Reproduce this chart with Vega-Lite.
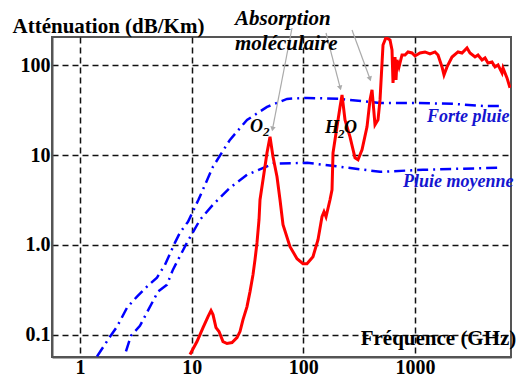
{
  "$schema": "https://vega.github.io/schema/vega-lite/v6.json",
  "width": 459,
  "height": 320,
  "autosize": "none",
  "padding": {"left": 52, "top": 37, "right": 7, "bottom": 17},
  "background": "white",
  "config": {"view": {"stroke": "#555", "strokeWidth": 2}, "font": "Liberation Serif"},
  "datasets": {
    "rain": [
      {"s": "Forte pluie", "f": 1.42, "a": 0.057}, {"s": "Forte pluie", "f": 1.86, "a": 0.095}, {"s": "Forte pluie", "f": 2.15, "a": 0.123},
      {"s": "Forte pluie", "f": 2.64, "a": 0.2}, {"s": "Forte pluie", "f": 3.24, "a": 0.265}, {"s": "Forte pluie", "f": 4.06, "a": 0.351},
      {"s": "Forte pluie", "f": 4.89, "a": 0.431}, {"s": "Forte pluie", "f": 5.77, "a": 0.6}, {"s": "Forte pluie", "f": 7.09, "a": 1.06},
      {"s": "Forte pluie", "f": 7.86, "a": 1.37}, {"s": "Forte pluie", "f": 9.27, "a": 1.81}, {"s": "Forte pluie", "f": 11.5, "a": 3.18},
      {"s": "Forte pluie", "f": 15.5, "a": 7.42}, {"s": "Forte pluie", "f": 22.0, "a": 14.8}, {"s": "Forte pluie", "f": 31.3, "a": 24.7},
      {"s": "Forte pluie", "f": 47.3, "a": 34.5}, {"s": "Forte pluie", "f": 71.4, "a": 42.4}, {"s": "Forte pluie", "f": 108, "a": 43.5},
      {"s": "Forte pluie", "f": 213, "a": 42.4}, {"s": "Forte pluie", "f": 486, "a": 38.2}, {"s": "Forte pluie", "f": 1042, "a": 38.2},
      {"s": "Forte pluie", "f": 2189, "a": 37.3}, {"s": "Forte pluie", "f": 4063, "a": 35.4}, {"s": "Forte pluie", "f": 6136, "a": 35.4},
      {"s": "Pluie moyenne", "f": 2.58, "a": 0.065}, {"s": "Pluie moyenne", "f": 2.86, "a": 0.097}, {"s": "Pluie moyenne", "f": 3.44, "a": 0.125},
      {"s": "Pluie moyenne", "f": 4.99, "a": 0.301}, {"s": "Pluie moyenne", "f": 6.01, "a": 0.36}, {"s": "Pluie moyenne", "f": 6.8, "a": 0.529},
      {"s": "Pluie moyenne", "f": 9.08, "a": 1.06}, {"s": "Pluie moyenne", "f": 11.9, "a": 1.91}, {"s": "Pluie moyenne", "f": 15.5, "a": 2.8},
      {"s": "Pluie moyenne", "f": 22.0, "a": 4.33}, {"s": "Pluie moyenne", "f": 31.3, "a": 6.04}, {"s": "Pluie moyenne", "f": 53.5, "a": 8.01},
      {"s": "Pluie moyenne", "f": 108, "a": 8.22}, {"s": "Pluie moyenne", "f": 213, "a": 7.42}, {"s": "Pluie moyenne", "f": 486, "a": 6.52},
      {"s": "Pluie moyenne", "f": 1179, "a": 6.87}, {"s": "Pluie moyenne", "f": 2377, "a": 7.05}, {"s": "Pluie moyenne", "f": 5770, "a": 7.23}
    ],
    "gas": [
      {"f": 9.66, "a": 0.0599}, {"f": 11.16, "a": 0.0835}, {"f": 12.64, "a": 0.1196}, {"f": 14.01, "a": 0.1586}, {"f": 14.9, "a": 0.185},
      {"f": 15.52, "a": 0.1669}, {"f": 16.51, "a": 0.1196}, {"f": 17.57, "a": 0.108}, {"f": 19.08, "a": 0.0835}, {"f": 20.72, "a": 0.0794},
      {"f": 22.97, "a": 0.0814}, {"f": 25.47, "a": 0.0926}, {"f": 27.09, "a": 0.108}, {"f": 28.82, "a": 0.1468}, {"f": 31.3, "a": 0.2049},
      {"f": 33.3, "a": 0.3011}, {"f": 35.42, "a": 0.4655}, {"f": 36.91, "a": 0.6836}, {"f": 38.46, "a": 1.057}, {"f": 40.09, "a": 1.906},
      {"f": 40.92, "a": 3.183}, {"f": 43.53, "a": 5.314}, {"f": 47.27, "a": 10.61}, {"f": 50.28, "a": 16.0}, {"f": 53.5, "a": 9.58},
      {"f": 58.09, "a": 5.738}, {"f": 61.8, "a": 3.183}, {"f": 65.75, "a": 1.676}, {"f": 75.95, "a": 0.954}, {"f": 87.76, "a": 0.701},
      {"f": 99.31, "a": 0.617}, {"f": 107.8, "a": 0.617}, {"f": 122.0, "a": 0.738}, {"f": 135.3, "a": 1.141}, {"f": 146.9, "a": 2.058},
      {"f": 153.1, "a": 2.34}, {"f": 159.6, "a": 2.058}, {"f": 173.3, "a": 3.183}, {"f": 180.6, "a": 4.113}, {"f": 184.4, "a": 10.61},
      {"f": 200.1, "a": 20.68}, {"f": 213.0, "a": 34.51}, {"f": 222.0, "a": 46.95}, {"f": 236.1, "a": 24.74}, {"f": 261.7, "a": 16.0},
      {"f": 290.1, "a": 9.34}, {"f": 308.6, "a": 8.87}, {"f": 335.2, "a": 11.46}, {"f": 371.6, "a": 20.68}, {"f": 395.4, "a": 41.3},
      {"f": 412.1, "a": 53.37}, {"f": 438.3, "a": 21.76}, {"f": 466.3, "a": 24.74}, {"f": 485.9, "a": 41.3}, {"f": 516.9, "a": 169.1},
      {"f": 549.8, "a": 204.9}, {"f": 597.0, "a": 192.2}, {"f": 622.2, "a": 148.8}, {"f": 635.2, "a": 63.86}, {"f": 662.0, "a": 124.3},
      {"f": 675.8, "a": 68.97}, {"f": 689.9, "a": 115.1}, {"f": 718.9, "a": 96.23}, {"f": 764.7, "a": 130.9}, {"f": 813.7, "a": 130.9},
      {"f": 865.4, "a": 141.4}, {"f": 939.9, "a": 137.8}, {"f": 1000, "a": 127.6}, {"f": 1108, "a": 137.8}, {"f": 1229, "a": 141.4},
      {"f": 1362, "a": 134.3}, {"f": 1510, "a": 141.4}, {"f": 1607, "a": 130.9}, {"f": 1745, "a": 96.23}, {"f": 1818, "a": 78.39},
      {"f": 1934, "a": 96.23}, {"f": 2144, "a": 124.3}, {"f": 2427, "a": 141.4}, {"f": 2635, "a": 137.8}, {"f": 2921, "a": 156.6},
      {"f": 3107, "a": 137.8}, {"f": 3445, "a": 124.3}, {"f": 3665, "a": 130.9}, {"f": 3981, "a": 115.1}, {"f": 4235, "a": 121.2},
      {"f": 4504, "a": 106.6}, {"f": 4892, "a": 109.4}, {"f": 5204, "a": 96.23}, {"f": 5537, "a": 101.3}, {"f": 6012, "a": 82.5},
      {"f": 6136, "a": 93.8}, {"f": 6663, "a": 72.6}, {"f": 7088, "a": 56.17}
    ],
    "arrows": [
      {"id": 1, "f": 79.16, "a": 261.5, "f2": 53.0, "a2": 19.6},
      {"id": 2, "f": 159.6, "a": 230.0, "f2": 213.9, "a2": 56.2},
      {"id": 3, "f": 272.8, "a": 248.5, "f2": 395.4, "a2": 70.7}
    ],
    "notes": [
      {"f": 24.43, "a": 282.4, "t": "Absorption", "k": "head"},
      {"f": 24.43, "a": 148.8, "t": "moléculaire", "k": "head"},
      {"f": 33.3, "a": 18.18, "t": "O", "k": "chem"},
      {"f": 43.53, "a": 16.42, "t": "2", "k": "sub"},
      {"f": 156.3, "a": 17.73, "t": "H", "k": "chem"},
      {"f": 204.4, "a": 15.59, "t": "2", "k": "sub"},
      {"f": 231.3, "a": 17.73, "t": "O", "k": "chem"},
      {"f": 1281, "a": 23.5, "t": "Forte pluie", "k": "rain"},
      {"f": 780.8, "a": 4.441, "t": "Pluie moyenne", "k": "rain"}
    ]
  },
  "layer": [
    {
      "data": {"name": "rain"},
      "mark": {"type": "line", "color": "#0000ff", "strokeWidth": 2.5, "strokeDash": [11, 5, 2, 5], "clip": true},
      "encoding": {
        "x": {"field": "f", "type": "quantitative",
          "scale": {"type": "log", "domain": [0.5614, 7236], "nice": false},
          "axis": {"values": [1, 10, 100, 1000], "labelExpr": "format(datum.value, 'd')",
            "grid": true, "gridDash": [6, 4], "gridColor": "#111", "gridWidth": 1.5,
            "ticks": false, "tickSize": 0, "labelPadding": 0, "labelFlush": false, "labelOverlap": false,
            "labelFont": "Liberation Serif", "labelFontWeight": "bold", "labelFontSize": 20, "labelColor": "#000",
            "domainColor": "#555", "domainWidth": 2,
            "title": "Fréquence (GHz)", "titleFont": "Liberation Serif", "titleFontWeight": "bold", "titleFontSize": 21,
            "titleColor": "#000", "titleX": 386, "titleY": -13, "titleAlign": "center", "titleBaseline": "alphabetic"}},
        "y": {"field": "a", "type": "quantitative",
          "scale": {"type": "log", "domain": [0.0562, 207.6], "nice": false},
          "axis": {"values": [0.1, 1, 10, 100],
            "labelExpr": "datum.value >= 100 ? '100' : datum.value >= 10 ? '10' : datum.value >= 1 ? '1.0' : '0.1'",
            "grid": true, "gridDash": [6, 4], "gridColor": "#111", "gridWidth": 1.5,
            "ticks": false, "tickSize": 0, "labelPadding": 2, "labelFlush": false, "labelOverlap": false,
            "labelFont": "Liberation Serif", "labelFontWeight": "bold", "labelFontSize": 20, "labelColor": "#000",
            "domainColor": "#555", "domainWidth": 2,
            "title": "Atténuation (dB/Km)", "titleFont": "Liberation Serif", "titleFontWeight": "bold", "titleFontSize": 21,
            "titleColor": "#000", "titleAngle": 0, "titleX": -40, "titleY": -5, "titleAlign": "left", "titleBaseline": "alphabetic"}},
        "detail": {"field": "s", "type": "nominal"},
        "order": {"field": "f", "type": "quantitative"}
      }
    },
    {
      "data": {"name": "gas"},
      "mark": {"type": "line", "color": "#ff0000", "strokeWidth": 3, "clip": true},
      "encoding": {
        "x": {"field": "f", "type": "quantitative"},
        "y": {"field": "a", "type": "quantitative"},
        "order": {"field": "f", "type": "quantitative"}
      }
    },
    {
      "data": {"name": "arrows"},
      "mark": {"type": "rule", "color": "#aaaaaa", "strokeWidth": 1.2},
      "encoding": {
        "x": {"field": "f", "type": "quantitative"},
        "y": {"field": "a", "type": "quantitative"},
        "x2": {"field": "f2"},
        "y2": {"field": "a2"}
      }
    },
    {
      "data": {"name": "arrows"},
      "transform": [{"filter": "datum.id == 1"}],
      "mark": {"type": "point", "shape": "triangle-down", "filled": true, "color": "#aaaaaa", "opacity": 1, "size": 30, "angle": 11},
      "encoding": {"x": {"field": "f2", "type": "quantitative"}, "y": {"field": "a2", "type": "quantitative"}}
    },
    {
      "data": {"name": "arrows"},
      "transform": [{"filter": "datum.id == 2"}],
      "mark": {"type": "point", "shape": "triangle-down", "filled": true, "color": "#aaaaaa", "opacity": 1, "size": 30, "angle": -15},
      "encoding": {"x": {"field": "f2", "type": "quantitative"}, "y": {"field": "a2", "type": "quantitative"}}
    },
    {
      "data": {"name": "arrows"},
      "transform": [{"filter": "datum.id == 3"}],
      "mark": {"type": "point", "shape": "triangle-down", "filled": true, "color": "#aaaaaa", "opacity": 1, "size": 30, "angle": -19},
      "encoding": {"x": {"field": "f2", "type": "quantitative"}, "y": {"field": "a2", "type": "quantitative"}}
    },
    {
      "data": {"name": "notes"},
      "transform": [{"filter": "datum.k == 'head'"}],
      "mark": {"type": "text", "align": "left", "baseline": "alphabetic", "font": "Liberation Serif", "fontWeight": "bold", "fontStyle": "italic", "fontSize": 21, "color": "#000"},
      "encoding": {"x": {"field": "f", "type": "quantitative"}, "y": {"field": "a", "type": "quantitative"}, "text": {"field": "t"}}
    },
    {
      "data": {"name": "notes"},
      "transform": [{"filter": "datum.k == 'chem'"}],
      "mark": {"type": "text", "align": "left", "baseline": "alphabetic", "font": "Liberation Serif", "fontWeight": "bold", "fontStyle": "italic", "fontSize": 18, "color": "#000"},
      "encoding": {"x": {"field": "f", "type": "quantitative"}, "y": {"field": "a", "type": "quantitative"}, "text": {"field": "t"}}
    },
    {
      "data": {"name": "notes"},
      "transform": [{"filter": "datum.k == 'sub'"}],
      "mark": {"type": "text", "align": "left", "baseline": "alphabetic", "font": "Liberation Serif", "fontWeight": "bold", "fontStyle": "italic", "fontSize": 13, "color": "#000"},
      "encoding": {"x": {"field": "f", "type": "quantitative"}, "y": {"field": "a", "type": "quantitative"}, "text": {"field": "t"}}
    },
    {
      "data": {"name": "notes"},
      "transform": [{"filter": "datum.k == 'rain'"}],
      "mark": {"type": "text", "align": "left", "baseline": "alphabetic", "font": "Liberation Serif", "fontWeight": "bold", "fontStyle": "italic", "fontSize": 18, "color": "#1515d0"},
      "encoding": {"x": {"field": "f", "type": "quantitative"}, "y": {"field": "a", "type": "quantitative"}, "text": {"field": "t"}}
    }
  ]
}
